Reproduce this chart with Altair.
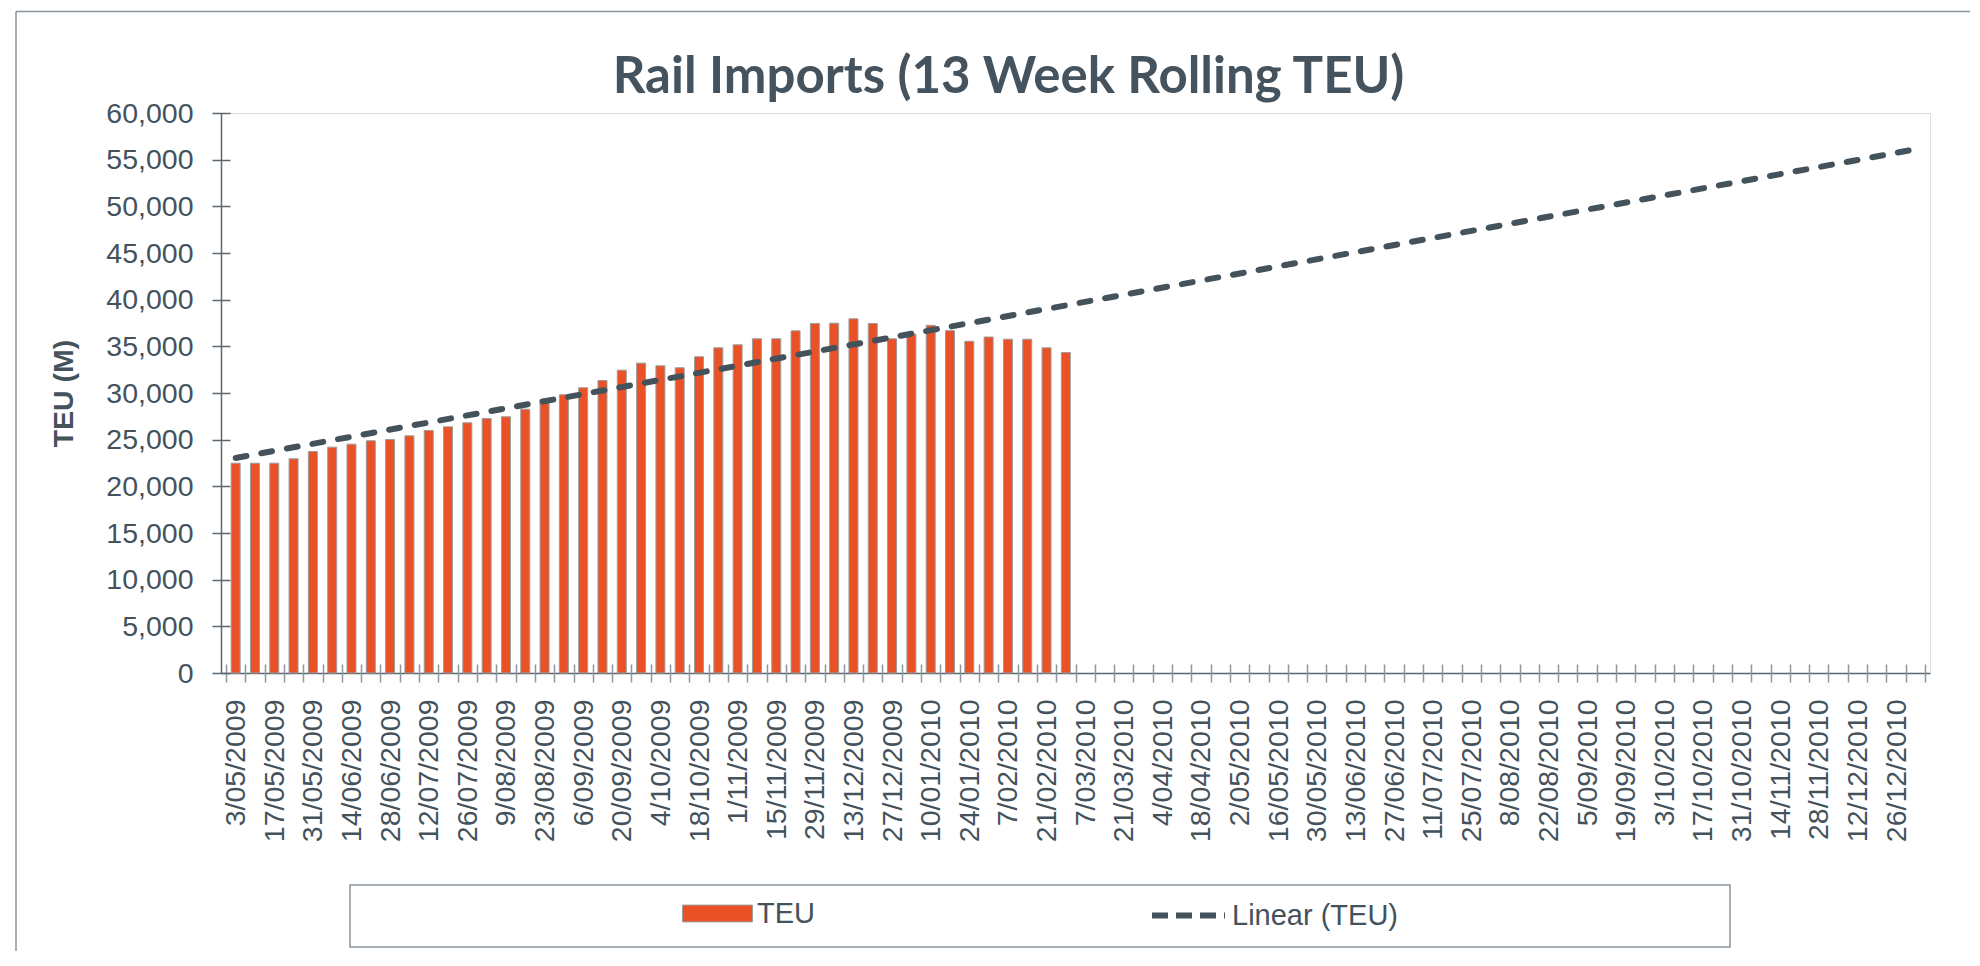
import altair as alt
import pandas as pd

# ---- data -------------------------------------------------------------
# x-axis labels (every second week, starting 3/05/2009)
week_labels = [
    "3/05/2009", "17/05/2009", "31/05/2009", "14/06/2009", "28/06/2009",
    "12/07/2009", "26/07/2009", "9/08/2009", "23/08/2009", "6/09/2009",
    "20/09/2009", "4/10/2009", "18/10/2009", "1/11/2009", "15/11/2009",
    "29/11/2009", "13/12/2009", "27/12/2009", "10/01/2010", "24/01/2010",
    "7/02/2010", "21/02/2010", "7/03/2010", "21/03/2010", "4/04/2010",
    "18/04/2010", "2/05/2010", "16/05/2010", "30/05/2010", "13/06/2010",
    "27/06/2010", "11/07/2010", "25/07/2010", "8/08/2010", "22/08/2010",
    "5/09/2010", "19/09/2010", "3/10/2010", "17/10/2010", "31/10/2010",
    "14/11/2010", "28/11/2010", "12/12/2010", "26/12/2010",
]
# weekly 13-week rolling TEU (one value per week from 3/05/2009)
teu_values = [
    22480, 22480, 22480, 22950, 23730, 24200, 24520, 24880, 25020, 25410,
    25980, 26380, 26810, 27270, 27450, 28270, 29310, 29810, 30560, 31340,
    32450, 33200, 32910, 32700, 33880, 34840, 35160, 35810, 35810, 36660,
    37450, 37480, 37950, 37450, 35800, 36300, 37250, 36680, 35540, 36000,
    35760, 35760, 34840, 34340,
]
n_weeks = 88  # number of weekly categories on the axis
series_names = ["TEU", "Linear (TEU)"]

# ---- styling ----------------------------------------------------------
TEXT = "#44525C"
AXIS = "#5B6770"
BAR = "#EB5126"
LINE = "#44525C"
FONT = "Liberation Sans"

bars_df = pd.DataFrame({
    "idx": list(range(1, len(teu_values) + 1)),
    "teu": teu_values,
    "series": series_names[0],
})

label_positions = list(range(1, 2 * len(week_labels), 2))
label_expr = "[" + ",".join("'" + s + "'" for s in week_labels) + "][round((datum.value-1)/2)]"
boundaries = [i + 0.5 for i in range(n_weeks + 1)]
y_ticks = list(range(0, 60001, 5000))

x_scale = alt.Scale(domain=[0.5, n_weeks + 0.5], nice=False, zero=False)
y_scale = alt.Scale(domain=[0, 60000], nice=False)

bars = alt.Chart(bars_df).mark_bar(
    width=9, stroke="#9C9C9C", strokeWidth=1
).encode(
    x=alt.X("idx:Q", scale=x_scale, axis=alt.Axis(
        orient="bottom", values=label_positions, labelExpr=label_expr,
        labelAngle=-90, labelFontSize=28.5, labelFont=FONT, labelColor=TEXT,
        labelPadding=26, ticks=False, domain=True, domainColor=AXIS,
        domainWidth=1.5, grid=False, title=None, labelOverlap=False,
        labelFlush=False, labelBound=False)),
    y=alt.Y("teu:Q", scale=y_scale, axis=alt.Axis(
        orient="left", values=y_ticks, format=",d", labelFontSize=28.5,
        labelFont=FONT, labelColor=TEXT, labelPadding=28, ticks=False,
        domain=True, domainColor=AXIS, domainWidth=1.5, grid=False,
        title="TEU (M)", titleFont=FONT, titleFontSize=28.5,
        titleFontWeight="bold", titleColor=TEXT, titleAngle=-90,
        titleX=-158, titleY=280, titleAlign="center", titleBaseline="middle")),
    color=alt.Color("series:N", scale=alt.Scale(domain=[series_names[0]], range=[BAR]),
                    legend=alt.Legend(
                        orient="none", legendX=461, legendY=765, title=None,
                        symbolType="M-1,-0.24L1,-0.24L1,0.24L-1,0.24Z",
                        symbolSize=4900, symbolStrokeColor="#9C9C9C",
                        symbolStrokeWidth=1, labelFont=FONT, labelFontSize=29,
                        labelColor=TEXT, labelOffset=4, labelLimit=400,
                        padding=0)),
)

trend = alt.Chart(bars_df).transform_regression(
    "idx", "teu", method="linear", extent=[1, n_weeks]
).transform_calculate(
    series="'" + series_names[1] + "'"
).mark_line(
    strokeWidth=6, strokeDash=[11, 15], strokeCap="round"
).encode(
    x=alt.X("idx:Q", scale=x_scale, axis=alt.Axis(
        orient="bottom", values=boundaries, labels=False, domain=False,
        ticks=True, tickSize=18, offset=-9, tickColor="#8D969D",
        tickWidth=1.5, grid=False, title=None)),
    y=alt.Y("teu:Q", scale=y_scale, axis=alt.Axis(
        orient="left", values=y_ticks, labels=False, domain=False,
        ticks=True, tickSize=18, offset=-9, tickColor=AXIS,
        tickWidth=1.5, grid=False, title=None)),
    color=alt.Color("series:N", scale=alt.Scale(domain=[series_names[1]], range=[LINE]),
                    legend=alt.Legend(
                        orient="none", legendX=928, legendY=763, title=None,
                        symbolType="stroke", symbolSize=5329, symbolStrokeWidth=6,
                        symbolDash=[16, 8], labelFont=FONT, labelFontSize=29,
                        labelColor=TEXT, labelOffset=4, labelLimit=400,
                        padding=0)),
)

one = pd.DataFrame({"a": [0]})
legend_box = alt.Chart(one).mark_rect(
    fill="white", stroke="#8A949C", strokeWidth=1.5
).encode(x=alt.value(129), x2=alt.value(1509), y=alt.value(772), y2=alt.value(834))

frame_top = alt.Chart(one).mark_rule(color="#8A949C", strokeWidth=1.5).encode(
    x=alt.value(-205), x2=alt.value(1749), y=alt.value(-101.5))
frame_left = alt.Chart(one).mark_rule(color="#8A949C", strokeWidth=1.5).encode(
    x=alt.value(-205), y=alt.value(-101.5), y2=alt.value(838))

chart = alt.layer(frame_top, frame_left, legend_box, bars, trend).resolve_scale(
    color="independent"
).resolve_axis(
    x="independent", y="independent"
).resolve_legend(
    color="independent"
).properties(
    width=1709, height=560,
    padding={"left": 7, "top": 2, "right": 0, "bottom": 0},
    title=alt.TitleParams(
        "Rail Imports (13 Week Rolling TEU)", font="Lato", fontSize=51,
        fontWeight="bold", color="#44535E", anchor="middle", dx=-67,
        offset=-93),
).configure_view(
    stroke="#80888E", strokeWidth=2
).configure(background="white")

chart.save("out.html", embed_options={"renderer": "svg", "actions": False})
